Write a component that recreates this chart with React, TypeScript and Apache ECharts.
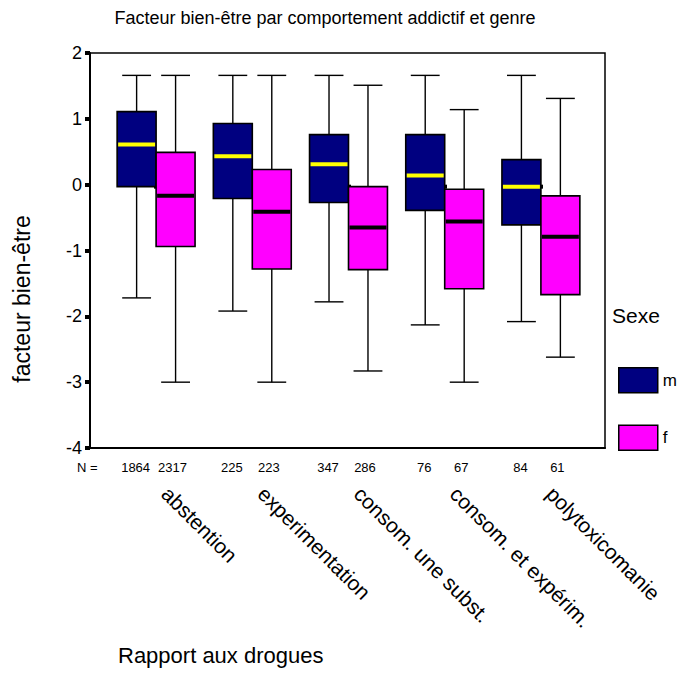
import React, { useEffect, useRef } from "react";
import * as echarts from "echarts";

const categories = ["abstention", "experimentation", "consom. une subst.", "consom. et expérim.", "polytoxicomanie"];
// [whiskerLow, Q1, median, Q3, whiskerHigh]
const maleStats = [
  [-1.72, -0.03, 0.61, 1.11, 1.66],
  [-1.92, -0.21, 0.43, 0.93, 1.66],
  [-1.78, -0.27, 0.31, 0.76, 1.66],
  [-2.13, -0.39, 0.14, 0.76, 1.66],
  [-2.08, -0.61, -0.03, 0.38, 1.66],
];
const femaleStats = [
  [-3.0, -0.94, -0.17, 0.49, 1.66],
  [-3.0, -1.28, -0.41, 0.23, 1.66],
  [-2.83, -1.29, -0.65, -0.03, 1.51],
  [-3.0, -1.58, -0.56, -0.07, 1.14],
  [-2.62, -1.67, -0.79, -0.17, 1.31],
];
const maleN = [1864, 225, 347, 76, 84];
const femaleN = [2317, 223, 286, 67, 61];
const yTicks = [-4, -3, -2, -1, 0, 1, 2];

const FONT = "'Liberation Sans', Arial, Helvetica, sans-serif";
const NAVY = "#000080";
const MAGENTA = "#FF00FF";

function makeRender(side: number, fill: string, medColor: string, nShift: number) {
  return (params: any, api: any) => {
    const cat = api.value(0);
    const lo = api.value(1), q1 = api.value(2), med = api.value(3), q3 = api.value(4), hi = api.value(5);
    const n = api.value(6);
    const c = api.coord([cat, 0])[0];
    const band = api.size([1, 0])[0];
    const w = band * 0.405;
    const x0 = side < 0 ? c - w : c;
    const cx = x0 + w / 2;
    const capHalf = band * 0.15;
    const yLo = api.coord([cat, lo])[1];
    const yQ1 = api.coord([cat, q1])[1];
    const yMed = api.coord([cat, med])[1];
    const yQ3 = api.coord([cat, q3])[1];
    const yHi = api.coord([cat, hi])[1];
    const yBase = api.coord([cat, yTicks[0]])[1];
    const ls = { stroke: "#000", lineWidth: 1.4 };
    return {
      type: "group",
      children: [
        { type: "line", shape: { x1: cx, y1: yHi, x2: cx, y2: yQ3 }, style: ls },
        { type: "line", shape: { x1: cx, y1: yQ1, x2: cx, y2: yLo }, style: ls },
        { type: "line", shape: { x1: cx - capHalf, y1: yHi, x2: cx + capHalf, y2: yHi }, style: ls },
        { type: "line", shape: { x1: cx - capHalf, y1: yLo, x2: cx + capHalf, y2: yLo }, style: ls },
        {
          type: "rect",
          shape: { x: x0, y: yQ3, width: w, height: yQ1 - yQ3 },
          style: { fill, stroke: "#000", lineWidth: 1.6 },
        },
        {
          type: "line",
          shape: { x1: x0 + 1, y1: yMed, x2: x0 + w - 1, y2: yMed },
          style: { stroke: medColor, lineWidth: 4 },
        },
        {
          type: "text",
          style: {
            x: cx + nShift,
            y: yBase + 19,
            text: String(n),
            fill: "#000",
            font: `13px ${FONT}`,
            align: "center",
            verticalAlign: "middle",
          },
        },
      ],
    };
  };
}

export default function App() {
  const ref = useRef<HTMLDivElement>(null);
  useEffect(() => {
    if (!ref.current) return;
    const chart = echarts.init(ref.current, null, { renderer: "svg" });
    const mData = maleStats.map((s, i) => [i, ...s, maleN[i]]);
    const fData = femaleStats.map((s, i) => [i, ...s, femaleN[i]]);
    chart.setOption({
      animation: false,
      backgroundColor: "#fff",
      textStyle: { fontFamily: FONT },
      grid: [
        { left: 108, right: 93, top: 53, height: 395 },
        { left: 90, right: 77, top: 53, height: 395, show: true, borderColor: "#000", borderWidth: 1.5, backgroundColor: "transparent" },
      ],
      xAxis: [
        {
          type: "category",
          gridIndex: 0,
          data: categories,
          axisLine: { show: false },
          axisTick: { show: true, alignWithLabel: true, length: 4, lineStyle: { color: "#000", width: 4 } },
          axisLabel: { rotate: -45, margin: 33, padding: [0, 0, 0, 13], fontSize: 21, color: "#000", fontFamily: FONT, interval: 0 },
          splitLine: { show: false },
        },
        {
          type: "value",
          gridIndex: 1,
          min: 0,
          max: 1,
          axisLine: { show: true, onZero: false, lineStyle: { color: "#000", width: 2 } },
          axisTick: { show: false },
          axisLabel: { show: false },
          splitLine: { show: false },
        },
      ],
      yAxis: [
        {
          type: "value",
          gridIndex: 0,
          min: yTicks[0],
          max: yTicks[yTicks.length - 1],
          interval: 1,
          show: false,
          splitLine: { show: false },
        },
        {
          type: "value",
          gridIndex: 1,
          min: yTicks[0],
          max: yTicks[yTicks.length - 1],
          interval: 1,
          axisLine: { show: true, onZero: false, lineStyle: { color: "#000", width: 2 } },
          axisTick: { show: true, length: 5, lineStyle: { color: "#000", width: 4 } },
          axisLabel: { fontSize: 18, color: "#000", margin: 8, fontFamily: FONT },
          splitLine: { show: false },
        },
      ],
      legend: {
        orient: "vertical",
        left: 613,
        top: 362,
        itemWidth: 39,
        itemHeight: 25,
        itemGap: 31,
        textStyle: { fontSize: 17, color: "#000", fontFamily: FONT },
        data: [
          { name: "m", icon: "rect", itemStyle: { color: NAVY, borderColor: "#000", borderWidth: 1.5 } },
          { name: "f", icon: "rect", itemStyle: { color: MAGENTA, borderColor: "#000", borderWidth: 1.5 } },
        ],
      },
      graphic: [
        { type: "text", x: 325, y: 18, style: { text: "Facteur bien-être par comportement addictif et genre", font: `18px ${FONT}`, fill: "#000", align: "center", verticalAlign: "middle" } },
        { type: "text", x: 22, y: 299, rotation: Math.PI / 2, style: { text: "facteur bien-être", font: `23px ${FONT}`, fill: "#000", align: "center", verticalAlign: "middle" } },
        { type: "text", x: 77, y: 467, style: { text: "N =", font: `13px ${FONT}`, fill: "#000", align: "left", verticalAlign: "middle" } },
        { type: "text", x: 612, y: 315, style: { text: "Sexe", font: `21px ${FONT}`, fill: "#000", align: "left", verticalAlign: "middle" } },
        { type: "text", x: 118, y: 655, style: { text: "Rapport aux drogues", font: `22px ${FONT}`, fill: "#000", align: "left", verticalAlign: "middle" } },
      ],
      series: [
        {
          name: "m",
          type: "custom",
          xAxisIndex: 0,
          yAxisIndex: 0,
          itemStyle: { color: NAVY },
          renderItem: makeRender(-1, NAVY, "#FFFF00", -1),
          encode: { x: 0, y: [1, 2, 3, 4, 5] },
          data: mData,
        },
        {
          name: "f",
          type: "custom",
          xAxisIndex: 0,
          yAxisIndex: 0,
          itemStyle: { color: MAGENTA },
          renderItem: makeRender(1, MAGENTA, "#000", -3),
          encode: { x: 0, y: [1, 2, 3, 4, 5] },
          data: fData,
        },
      ],
    });
    return () => chart.dispose();
  }, []);
  return <div ref={ref} style={{ width: 682, height: 698, position: "absolute", left: 0, top: 0 }} />;
}
